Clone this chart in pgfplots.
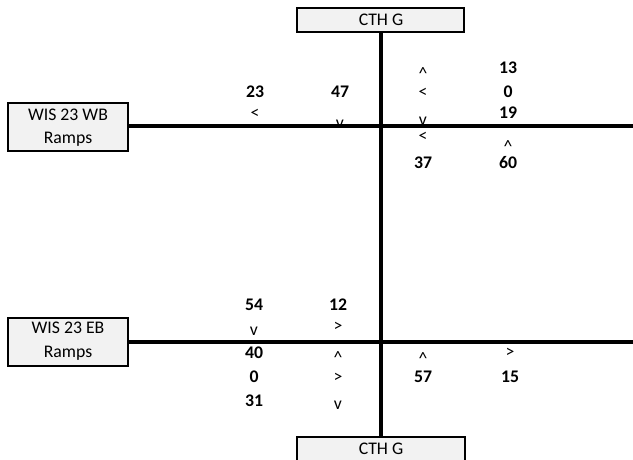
\documentclass[border=0pt]{standalone}
\usepackage{pgfplots}
\pgfplotsset{compat=1.18}
\usepackage{fontspec}
\setmainfont{Carlito}
\definecolor{boxgray}{HTML}{F2F2F2}
\begin{document}
\begin{tikzpicture}
\begin{axis}[
  scale only axis, width=474.75pt, height=345pt,
  xmin=0, xmax=633, ymin=0, ymax=460, y dir=reverse,
  hide axis, clip=false,
  every node near coord/.append style={anchor=center, inner sep=0pt, font=\fontsize{13.3}{15}\selectfont, text=black},
]
% boxes
\addplot[fill=boxgray, draw=black, line width=1.3pt] coordinates {(297,8) (464,8) (464,32) (297,32)} -- cycle;
\addplot[fill=boxgray, draw=black, line width=1.3pt] coordinates {(297,437) (465,437) (465,461) (297,461)} -- cycle;
\addplot[fill=boxgray, draw=black, line width=1.3pt] coordinates {(8,103) (128,103) (128,151) (8,151)} -- cycle;
\addplot[fill=boxgray, draw=black, line width=1.3pt] coordinates {(8,318) (128,318) (128,366) (8,366)} -- cycle;
% box labels
\addplot[only marks, mark=none, nodes near coords, point meta=explicit symbolic] coordinates {
 (381,20) [CTH G]
 (381,449) [CTH G]
 (68,115) [WIS 23 WB]
 (68,139) [Ramps]
 (68,328) [WIS 23 EB]
 (68,353) [Ramps]
};
% volumes
\addplot[only marks, mark=none, nodes near coords, point meta=explicit symbolic,
  every node near coord/.append style={font=\fontsize{13.3}{15}\selectfont\bfseries}] coordinates {
 (255,92) [23]
 (340,92) [47]
 (423,163) [37]
 (508,68) [13]
 (508,92) [0]
 (508,113) [19]
 (508,163) [60]
 (254,305) [54]
 (254,353) [40]
 (254,377) [0]
 (254,401) [31]
 (338,305) [12]
 (423,377) [57]
 (510,377) [15]
};
% movement symbols
\addplot[only marks, mark=none, nodes near coords, point meta=explicit symbolic] coordinates {
 (255,114) [<]
 (340,124) [v]
 (423,74) [\textasciicircum]
 (423,93) [<]
 (423,121) [v]
 (423,137) [<]
 (508,147) [\textasciicircum]
 (254,331) [v]
 (338,327) [>]
 (338,358) [\textasciicircum]
 (338,378) [>]
 (338,405) [v]
 (423,359) [\textasciicircum]
 (510,353) [>]
};
% roads
\addplot[line width=3pt, black] coordinates {(128,126) (633,126)};
\addplot[line width=3pt, black] coordinates {(128,342) (633,342)};
\addplot[line width=3pt, black] coordinates {(381,32) (381,437)};
\end{axis}
\pgfresetboundingbox
\path[use as bounding box] (current axis.south west) rectangle (current axis.north east);
\end{tikzpicture}
\end{document}
